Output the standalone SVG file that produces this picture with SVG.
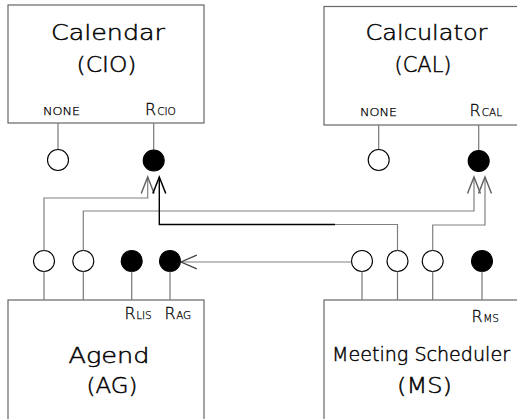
<svg xmlns="http://www.w3.org/2000/svg" width="517" height="419" viewBox="0 0 517 419">
  <style>
    .box { fill: #ffffff; stroke: #666666; stroke-width: 1.2; }
    .stem { stroke: #777777; stroke-width: 1.2; fill: none; }
    .port-open { fill: #ffffff; stroke: #000000; stroke-width: 1.1; }
    .port-full { fill: #000000; stroke: #000000; stroke-width: 1.1; }
    .wire { fill: none; stroke: #808080; stroke-width: 1.2; }
    .wire-dark { fill: none; stroke: #000000; stroke-width: 1.4; }
    .title { font-family: "DejaVu Sans", "Liberation Sans", sans-serif; font-weight: 200; font-size: 21px; fill: #000000; stroke: #000000; stroke-width: 0.45; text-anchor: middle; }
    .title-wide { font-size: 19px; }
    .small { font-family: "DejaVu Sans", "Liberation Sans", sans-serif; font-weight: 200; font-size: 10.5px; fill: #000000; stroke: #000000; stroke-width: 0.25; }
    .reg { font-family: "DejaVu Sans", "Liberation Sans", sans-serif; font-weight: 200; font-size: 16px; fill: #000000; stroke: #000000; stroke-width: 0.3; }
    .sub { font-size: 10.5px; stroke-width: 0.25; }
  </style>
  <defs>
    <marker id="chev-gray" markerUnits="userSpaceOnUse" markerWidth="20" markerHeight="20" refX="0" refY="0" viewBox="-15 -8 17 16" orient="auto" overflow="visible">
      <path d="M -14 -5.5 L 0 0 L -14 5.5" fill="none" stroke="#606060" stroke-width="1.2"/>
    </marker>
    <marker id="chev-dark" markerUnits="userSpaceOnUse" markerWidth="20" markerHeight="20" refX="0" refY="0" viewBox="-15 -8 17 16" orient="auto" overflow="visible">
      <path d="M -14 -5.5 L 0 0 L -14 5.5" fill="none" stroke="#000000" stroke-width="1.3"/>
    </marker>
    <marker id="chev-left" markerUnits="userSpaceOnUse" markerWidth="20" markerHeight="20" refX="0" refY="0" viewBox="-17 -8 19 16" orient="auto" overflow="visible">
      <path d="M -15 -6.5 L 0 0 L -15 6.5" fill="none" stroke="#404040" stroke-width="1.2"/>
    </marker>
  </defs>

  <!-- Calendar component -->
  <g id="calendar">
    <rect class="box" x="8" y="5" width="196" height="118"/>
    <text class="title" x="108" y="40" textLength="114" lengthAdjust="spacingAndGlyphs">Calendar</text>
    <text class="title" x="106.5" y="72" textLength="60" lengthAdjust="spacingAndGlyphs">(CIO)</text>
    <text class="small" x="43" y="115" textLength="37" lengthAdjust="spacingAndGlyphs">NONE</text>
    <text class="reg" x="145" y="115">R<tspan class="sub" dx="1">CIO</tspan></text>
    <line class="stem" x1="58" y1="123" x2="58" y2="149.5"/>
    <circle class="port-open" cx="58" cy="160" r="10.5"/>
    <line class="stem" x1="153.7" y1="123" x2="153.7" y2="150"/>
    <circle class="port-full" cx="153.7" cy="160.5" r="10.5"/>
  </g>

  <!-- Calculator component -->
  <g id="calculator">
    <rect class="box" x="324" y="6.5" width="200" height="118.5"/>
    <text class="title" x="426.5" y="39.5" textLength="122" lengthAdjust="spacingAndGlyphs">Calculator</text>
    <text class="title" x="423" y="72" textLength="57" lengthAdjust="spacingAndGlyphs">(CAL)</text>
    <text class="small" x="360" y="116" textLength="37" lengthAdjust="spacingAndGlyphs">NONE</text>
    <text class="reg" x="469.5" y="116">R<tspan class="sub" dx="1">CAL</tspan></text>
    <line class="stem" x1="378.7" y1="125" x2="378.7" y2="149.5"/>
    <circle class="port-open" cx="378.7" cy="160" r="10.5"/>
    <line class="stem" x1="478.7" y1="125" x2="478.7" y2="150.5"/>
    <circle class="port-full" cx="478.7" cy="161" r="10.5"/>
  </g>

  <!-- Agend component -->
  <g id="agend">
    <rect class="box" x="8" y="300" width="196" height="130"/>
    <text class="title" x="109" y="363" textLength="81" lengthAdjust="spacingAndGlyphs">Agend</text>
    <text class="title" x="112" y="393" textLength="51" lengthAdjust="spacingAndGlyphs">(AG)</text>
    <text class="reg" x="124.5" y="318.5">R<tspan class="sub" dx="0.5">LIS</tspan></text>
    <text class="reg" x="164.5" y="318.5">R<tspan class="sub" dx="0.5">AG</tspan></text>
    <circle class="port-open" cx="44" cy="261" r="10.5"/>
    <line class="stem" x1="44" y1="271.5" x2="44" y2="300"/>
    <circle class="port-open" cx="83.3" cy="261" r="10.5"/>
    <line class="stem" x1="83.3" y1="271.5" x2="83.3" y2="300"/>
    <circle class="port-full" cx="131.7" cy="261" r="10.5"/>
    <line class="stem" x1="131.7" y1="271.5" x2="131.7" y2="300"/>
    <circle class="port-full" cx="170" cy="261" r="10.5"/>
    <line class="stem" x1="170" y1="271.5" x2="170" y2="300"/>
  </g>

  <!-- Meeting Scheduler component -->
  <g id="meeting-scheduler">
    <rect class="box" x="324" y="300" width="200" height="130"/>
    <text class="title title-wide" x="421" y="361" textLength="178" lengthAdjust="spacingAndGlyphs">Meeting Scheduler</text>
    <text class="title" x="424.5" y="393" textLength="55" lengthAdjust="spacingAndGlyphs">(MS)</text>
    <text class="reg" x="471.5" y="321.5">R<tspan class="sub" dx="0.5">MS</tspan></text>
    <circle class="port-open" cx="362" cy="261" r="10.5"/>
    <line class="stem" x1="362" y1="271.5" x2="362" y2="300"/>
    <circle class="port-open" cx="397.5" cy="261" r="10.5"/>
    <line class="stem" x1="397.5" y1="271.5" x2="397.5" y2="300"/>
    <circle class="port-open" cx="432.7" cy="261" r="10.5"/>
    <line class="stem" x1="432.7" y1="271.5" x2="432.7" y2="300"/>
    <circle class="port-full" cx="482" cy="261" r="10.5"/>
    <line class="stem" x1="482" y1="271.5" x2="482" y2="300"/>
  </g>

  <!-- Connectors -->
  <g id="connectors">
    <!-- AG -> R_CIO -->
    <path class="wire" d="M 44 250.5 V 198 H 147.7 V 177" marker-end="url(#chev-gray)"/>
    <!-- AG -> R_CAL -->
    <path class="wire" d="M 83.3 250.5 V 211 H 474 V 177" marker-end="url(#chev-gray)"/>
    <!-- MS -> R_CIO -->
    <path class="wire" d="M 397.5 250.5 V 224.5 H 335"/>
    <path class="wire-dark" d="M 335 224.5 H 159.3 V 177" marker-end="url(#chev-dark)"/>
    <!-- MS -> R_CAL -->
    <path class="wire" d="M 432.7 250.5 V 225 H 485 V 177" marker-end="url(#chev-gray)"/>
    <!-- MS -> R_AG -->
    <path class="wire" d="M 351.5 262 H 181" stroke="#505050" marker-end="url(#chev-left)"/>
  </g>
</svg>
